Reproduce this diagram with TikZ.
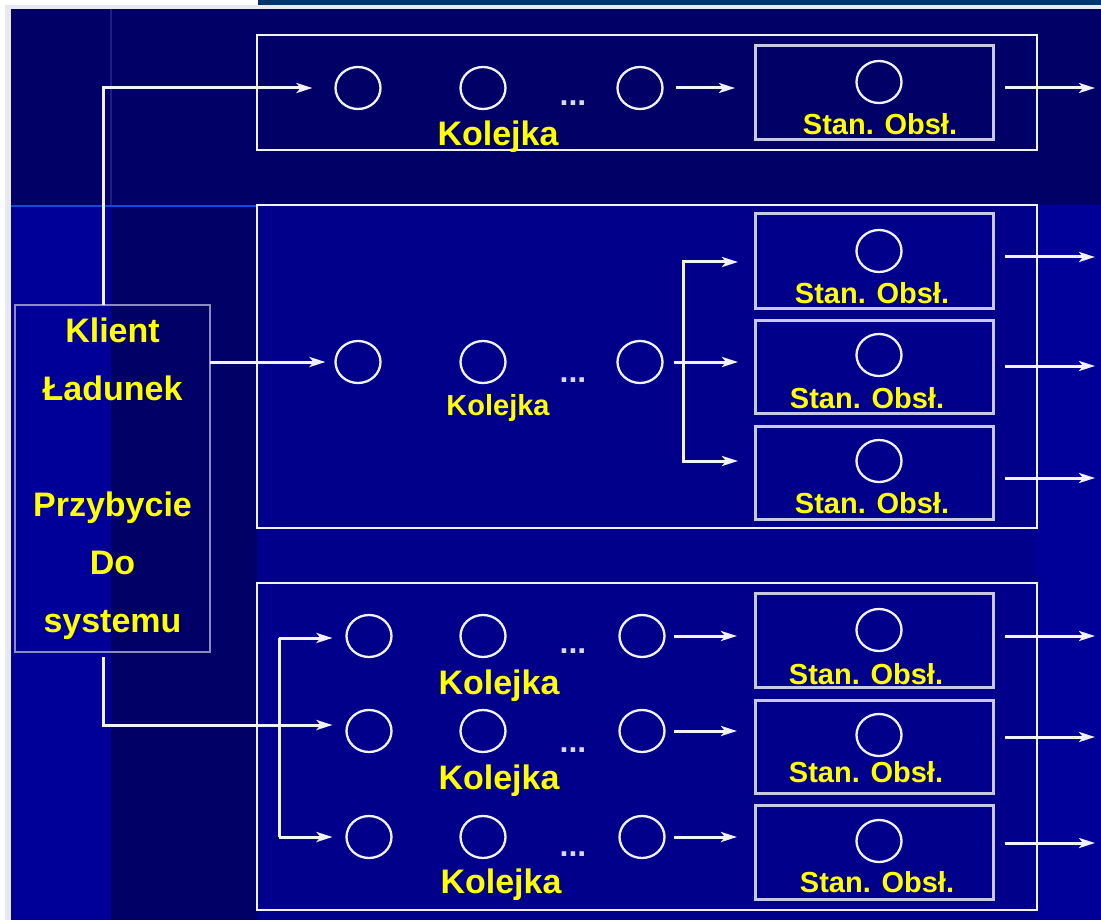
\documentclass[tikz,border=0pt]{standalone}
\usepackage{fontspec}
\setmainfont{Liberation Sans}
\usetikzlibrary{arrows.meta,shapes.geometric}
\definecolor{navy}{HTML}{000066}
\definecolor{navyb}{HTML}{00008A}
\definecolor{navyc}{HTML}{000099}
\definecolor{edgegray}{HTML}{E8E8F0}
\definecolor{topbar}{HTML}{003366}
\definecolor{lineW}{HTML}{F2F2FF}
\definecolor{srvline}{HTML}{C8C8E6}
\definecolor{clline}{HTML}{8C8CBC}
\definecolor{ylw}{HTML}{FFFF00}
\definecolor{glow}{HTML}{1448E0}
\definecolor{dotc}{HTML}{D8D8E8}
\begin{document}
\begin{tikzpicture}[x=1pt,y=-1pt,
  outerbox/.style={draw=lineW,line width=2.6pt,minimum width=780pt,inner sep=0pt,outer sep=0pt},
  srvbox/.style={draw=srvline,line width=3pt,minimum width=238pt,inner sep=0pt,outer sep=0pt},
  cust/.style={ellipse,draw=lineW,line width=2.3pt,minimum width=45pt,minimum height=42pt,inner sep=0pt,outer sep=0pt},
  klbl/.style={text=ylw,inner sep=0pt,font=\bfseries\fontsize{34}{40}\selectfont},
  klblsmall/.style={text=ylw,inner sep=0pt,font=\bfseries\fontsize{29}{34}\selectfont},
  slbl/.style={text=ylw,inner sep=0pt,font=\bfseries\fontsize{29}{34}\selectfont},
  dots/.style={text=dotc,inner sep=0pt,font=\bfseries\fontsize{32}{34}\selectfont},
  clientbox/.style={draw=clline,line width=1.6pt,minimum width=195pt,minimum height=347pt,
     inner sep=0pt,outer sep=0pt,align=center,text=ylw,font=\bfseries\fontsize{34}{58}\selectfont},
  wire/.style={draw=lineW,line width=3pt},
  arr/.style={wire,-{Stealth[length=16pt,width=10pt,inset=4pt]}}
]
% ---------- background ----------
\useasboundingbox (0,0) rectangle (1101,920);
\fill[edgegray] (0,0) rectangle (1101,920);
\fill[white] (0,0) rectangle (258,5);
\fill[white] (0,0) rectangle (5,920);
\fill[topbar] (258,0) rectangle (1101,5);
\fill[navy] (11,9) rectangle (1101,920);
\fill[navyc] (11,206) rectangle (111,920);
\fill[navyb] (257,205) rectangle (1101,920);
\fill[navyc] (1037,205) rectangle (1101,920);
\draw[glow,line width=1.6pt] (11,206) -- (257,206);
\draw[navyc!70!white,line width=1.2pt,opacity=0.4] (111,9) -- (111,205);

% ---------- outer boxes ----------
\node[outerbox,minimum height=115pt] (B1) at (647,92.5) {};
\node[outerbox,minimum height=323pt] (B2) at (647,366.5) {};
\node[outerbox,minimum height=327pt] (B3) at (647,746.5) {};

% ---------- server boxes ----------
\node[srvbox,minimum height=94pt] (s1) at (874,93) {};
\node[srvbox,minimum height=94pt] (s2a) at (874,261) {};
\node[srvbox,minimum height=93pt] (s2b) at (874,366.5) {};
\node[srvbox,minimum height=93pt] (s2c) at (874,472.5) {};
\node[srvbox,minimum height=94pt] (s3a) at (874,640) {};
\node[srvbox,minimum height=93pt] (s3b) at (874,746.5) {};
\node[srvbox,minimum height=94pt] (s3c) at (874,852) {};

% ---------- server circles ----------
\node[cust] (c1) at (879,82) {};
\node[cust] (c2a) at (879,251) {};
\node[cust] (c2b) at (879,355) {};
\node[cust] (c2c) at (879,461) {};
\node[cust] (c3a) at (879,630) {};
\node[cust] (c3b) at (879,735) {};
\node[cust] (c3c) at (879,841) {};

% ---------- queue circles ----------
\node[cust] (t1) at (358,88) {};
\node[cust] (t2) at (483,88) {};
\node[cust] (t3) at (640,88) {};
\node[cust] (m1) at (358,362) {};
\node[cust] (m2) at (483,362) {};
\node[cust] (m3) at (640,362) {};
\node[cust] (b11) at (369,636) {};
\node[cust] (b12) at (483,636) {};
\node[cust] (b13) at (642,636) {};
\node[cust] (b21) at (369,731) {};
\node[cust] (b22) at (483,731) {};
\node[cust] (b23) at (642,731) {};
\node[cust] (b31) at (369,837) {};
\node[cust] (b32) at (483,837) {};
\node[cust] (b33) at (642,837) {};

% ---------- dots ----------
\node[dots] (d1) at (573,103) {...};
\node[dots] (d2) at (573,380) {...};
\node[dots] (d3) at (573,651) {...};
\node[dots] (d4) at (573,750) {...};
\node[dots] (d5) at (573,854) {...};

% ---------- client box ----------
\node[clientbox] (client) at (112.5,478.5) {Klient\\Ładunek\\[58pt]Przybycie\\Do\\systemu};

% ---------- coordinates ----------
\coordinate (k1) at (103,88);
\coordinate (br2) at (683,362);
\coordinate (br2t) at (683,262);
\coordinate (br2b) at (683,461);
\coordinate (k3) at (103,725);
\coordinate (br3t) at (279,638);
\coordinate (br3b) at (279,837);
\coordinate (o1) at (1095,88);
\coordinate (o2a) at (1095,257);
\coordinate (o2b) at (1095,366);
\coordinate (o2c) at (1095,478);
\coordinate (o3a) at (1095,636);
\coordinate (o3b) at (1095,737);
\coordinate (o3c) at (1095,843);

% ---------- connectors: client ----------
\draw[arr,shorten >=23pt] (client.north -| k1) -- (k1) -- (t1.west);
\draw[arr,shorten >=10pt] (client.east |- m1) -- (m1.west);
\draw[arr,shorten <=5pt,shorten >=14pt] (client.south -| k3) -- (k3) -- (k3 -| b21.west);

% ---------- top row ----------
\draw[arr,shorten <=13pt,shorten >=20pt] (t3.east) -- (t3.east -| s1.west);

% ---------- middle branch ----------
\draw[wire,shorten <=11pt] (m3.east) -- (br2);
\draw[arr,shorten >=17pt] (br2) -- (br2 -| s2b.west);
\draw[arr,shorten >=17pt] (br2) -- (br2t) -- (br2t -| s2a.west);
\draw[arr,shorten >=17pt] (br2) -- (br2b) -- (br2b -| s2c.west);

% ---------- bottom branch ----------
\draw[wire] (br3t) -- (br3b);
\draw[arr,shorten >=14pt] (br3t) -- (br3t -| b11.west);
\draw[arr,shorten >=14pt] (br3b) -- (br3b -| b31.west);
\draw[arr,shorten <=9pt,shorten >=18pt] (b13.east) -- (b13.east -| s3a.west);
\draw[arr,shorten <=9pt,shorten >=18pt] (b23.east) -- (b23.east -| s3b.west);
\draw[arr,shorten <=9pt,shorten >=18pt] (b33.east) -- (b33.east -| s3c.west);

% ---------- outputs ----------
\draw[arr,shorten <=12pt] (s1.east |- o1) -- (o1);
\draw[arr,shorten <=12pt] (s2a.east |- o2a) -- (o2a);
\draw[arr,shorten <=12pt] (s2b.east |- o2b) -- (o2b);
\draw[arr,shorten <=12pt] (s2c.east |- o2c) -- (o2c);
\draw[arr,shorten <=12pt] (s3a.east |- o3a) -- (o3a);
\draw[arr,shorten <=12pt] (s3b.east |- o3b) -- (o3b);
\draw[arr,shorten <=12pt] (s3c.east |- o3c) -- (o3c);

% ---------- labels ----------
\node[klbl] (q1) at (498,137) {Kolejka};
\node[klblsmall] (q2) at (498,408) {Kolejka};
\node[klbl] (q3) at (499,686) {Kolejka};
\node[klbl] (q4) at (499,781) {Kolejka};
\node[klbl] (q5) at (501,885) {Kolejka};

\node[slbl] (l1) at (880,124) {Stan. Obsł.};
\node[slbl] (l2a) at (872,293) {Stan. Obsł.};
\node[slbl] (l2b) at (867,398) {Stan. Obsł.};
\node[slbl] (l2c) at (872,503) {Stan. Obsł.};
\node[slbl] (l3a) at (866,674) {Stan. Obsł.};
\node[slbl] (l3b) at (866,772) {Stan. Obsł.};
\node[slbl] (l3c) at (877,882) {Stan. Obsł.};
\end{tikzpicture}
\end{document}
